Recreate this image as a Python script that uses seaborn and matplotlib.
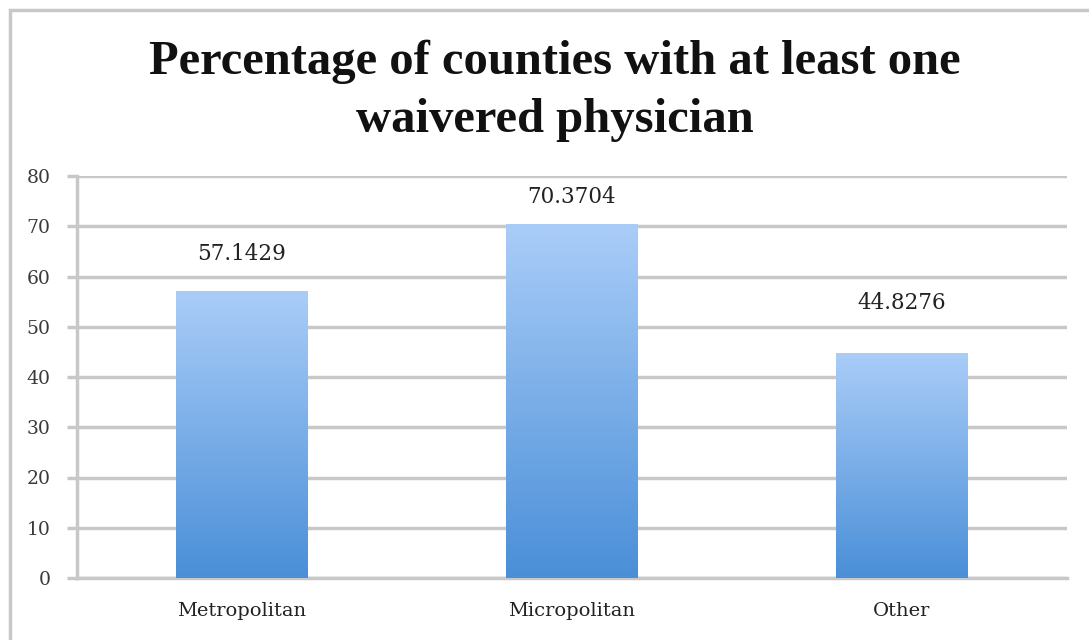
import numpy as np
import pandas as pd
import matplotlib
matplotlib.use("Agg")
import matplotlib.pyplot as plt
import seaborn as sns
from matplotlib.patches import Rectangle
from matplotlib.colors import LinearSegmentedColormap

categories = ["Metropolitan", "Micropolitan", "Other"]
values = [57.1429, 70.3704, 44.8276]
value_labels = ["57.1429", "70.3704", "44.8276"]
label_offsets_px = [37, 27, 50]
yticks = [0, 10, 20, 30, 40, 50, 60, 70, 80]
title = "Percentage of counties with at least one\nwaivered physician"

sns.set_theme(style="white")
plt.rcParams['font.family'] = ['DejaVu Serif', 'Liberation Serif']

W, H = 1089, 640
fig = plt.figure(figsize=(W / 100, H / 100), dpi=100)
fig.patch.set_facecolor("white")

# outer frame
frame = Rectangle((10 / W, -0.1), 1.2, (630 / H) + 0.1, transform=fig.transFigure,
                  fill=False, edgecolor="#c8c8c8", linewidth=2.5, zorder=0)
fig.patches.append(frame)

ax = fig.add_axes([77 / W, 1 - 578 / H, (1067 - 77) / W, (578 - 176) / H])
df = pd.DataFrame({"category": categories, "value": values})
sns.barplot(data=df, x="category", y="value", ax=ax, width=0.4,
            color="#6aa3e6", saturation=1, zorder=3)

ax.set_ylim(0, 80)
ax.set_xlim(-0.5, 2.5)
ax.set_yticks(yticks)
ax.set_yticklabels([str(t) for t in yticks])
ax.set_xlabel("")
ax.set_ylabel("")
ax.grid(axis="y", color="#c8c8c8", linewidth=2.5, zorder=0)
ax.set_axisbelow(True)
for s in ["top", "right"]:
    ax.spines[s].set_visible(False)
ax.spines["left"].set_color("#c8c8c8")
ax.spines["left"].set_linewidth(2.5)
ax.spines["bottom"].set_color("#c8c8c8")
ax.spines["bottom"].set_linewidth(2.5)
ax.tick_params(axis="y", length=7, width=2.5, color="#c8c8c8", labelsize=13.5,
               labelcolor="#3a3a3a", left=True, pad=12)
ax.tick_params(axis="x", length=0, labelsize=14, labelcolor="#222222", pad=17)

# gradient fill on bars
cmap = LinearSegmentedColormap.from_list("g", ["#4a8fd8", "#aacdf8"])
grad = np.linspace(0, 1, 256).reshape(-1, 1)
for p in ax.patches:
    x0, y0 = p.get_x(), p.get_y()
    w, h = p.get_width(), p.get_height()
    im = ax.imshow(grad, cmap=cmap, origin="lower", aspect="auto",
                   extent=[x0, x0 + w, y0, y0 + h], zorder=4)
    im.set_clip_path(p)
    p.set_edgecolor("none")

for i, (v, lab, off) in enumerate(zip(values, value_labels, label_offsets_px)):
    ax.annotate(lab, (i, v), xytext=(0, off * 0.72), textcoords="offset points",
                ha="center", va="center", fontsize=15.5, color="#222222", zorder=5)
ax.set_ylim(0, 80)
ax.set_xlim(-0.5, 2.5)

fig.text(555 / W, 1 - 91 / H, title, ha="center", va="center", fontsize=35,
         fontweight="bold", color="#111111", linespacing=1.42,
         family=['Liberation Serif', 'DejaVu Serif'])

fig.savefig("out.png", dpi=100, facecolor="white")
